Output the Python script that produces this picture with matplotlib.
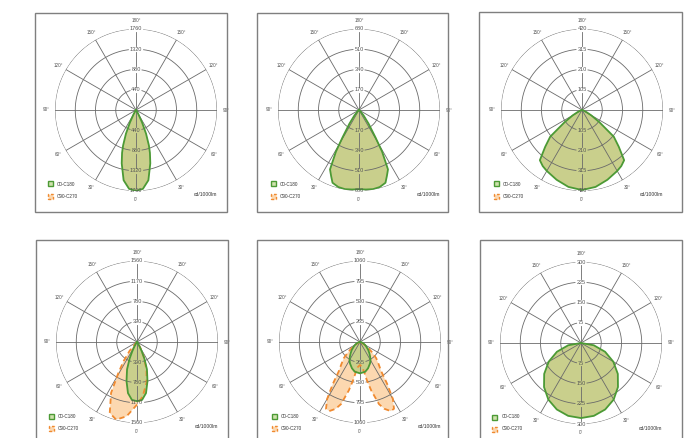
import numpy as np
import matplotlib
matplotlib.use("Agg")
import matplotlib.pyplot as plt
from matplotlib.patches import Rectangle

plt.rcParams['font.family'] = ['Liberation Sans', 'DejaVu Sans']

# ---- data (gamma angle in degrees, intensity in cd/1000lm) ----
# symmetric C0-C180 curves, gamma 0..90 (mirrored left/right)
p1_gamma = [0, 5, 10, 15, 18, 20, 23, 26, 30, 35, 40, 90]
p1_c0 = [1760, 1720, 1550, 1200, 980, 820, 560, 300, 100, 20, 0, 0]

p2_gamma = [0, 5, 10, 15, 20, 23, 26, 29, 31, 35, 40, 45, 50, 60, 90]
p2_c0 = [665, 670, 675, 670, 650, 600, 555, 400, 270, 140, 60, 20, 5, 0, 0]

p3_gamma = [0, 10, 20, 30, 35, 40, 45, 50, 55, 60, 65, 70, 80, 90]
p3_c0 = [415, 405, 385, 365, 355, 340, 270, 215, 110, 55, 25, 8, 0, 0]

p4_gamma = [0, 5, 10, 15, 20, 24, 27, 30, 35, 40, 90]
p4_c0 = [1140, 1120, 1000, 780, 560, 350, 200, 100, 30, 0, 0]
# asymmetric C90-C270 curve, signed angle (negative = left side)
p4_c90_ang = [-90, -50, -45, -40, -35, -31, -27, -21, -15, -8, 0, 6, 13, 19, 25, 30, 35, 40, 90]
p4_c90 = [0, 0, 30, 220, 450, 700, 1100, 1465, 1548, 1445, 1207, 1053, 810, 563, 300, 130, 40, 0, 0]

p5_gamma = [0, 10, 17, 25, 30, 35, 40, 46, 50, 55, 60, 70, 80, 90]
p5_c0 = [410, 395, 360, 310, 275, 230, 190, 150, 120, 95, 75, 40, 15, 0]
p5_c90_gamma = [0, 5, 8, 10, 13, 17, 20, 24, 27, 30, 33, 36, 40, 45, 50, 55, 60, 70, 80, 90]
p5_c90 = [300, 330, 400, 500, 650, 850, 930, 990, 980, 860, 650, 470, 380, 300, 200, 120, 60, 15, 0, 0]

p6_gamma = [0, 10, 20, 30, 40, 50, 60, 70, 80, 90]
p6_c0 = [278, 274, 262, 242, 213, 178, 138, 95, 48, 0]

ring_labels = {
    1: ['440', '880', '1320', '1760'],
    2: ['170', '340', '510', '680'],
    3: ['105', '210', '315', '420'],
    4: ['390', '780', '1170', '1560'],
    5: ['265', '530', '795', '1060'],
    6: ['75', '150', '225', '300'],
}

# ---- layout (pixels) ----
W, H = 690, 438
R = 81
centers = {1: (136, 110), 2: (359, 110), 3: (582, 110),
           4: (137, 342), 5: (360, 342), 6: (581, 343)}
boxes = {1: (35, 13, 227, 212), 2: (257, 13, 448, 212), 3: (479, 12, 682, 212),
         4: (36, 240, 228, 445), 5: (257, 240, 448, 445), 6: (480, 240, 682, 445)}

GRID = '#6a6a6a'
TXT = '#555555'
G_FILL = '#c9cf8c'
G_EDGE = '#4c9a35'
O_FILL = '#fcd8b0'
O_EDGE = '#f08a30'


def mirror(gamma, vals):
    g = np.asarray(gamma, float)
    v = np.asarray(vals, float)
    th = np.concatenate([-g[::-1], g[1:]])
    r = np.concatenate([v[::-1], v[1:]])
    return np.radians(th), r


def draw_grid(ax, labels):
    rmax = float(labels[-1])
    fs = 4
    lw = 0.6
    gap_r = 3.2 / R * rmax
    # rings with gaps at the labels
    for lab in labels:
        rv = float(lab)
        rpx = rv / rmax * R
        half = (len(lab) * 1.6 + 1.2) / rpx
        for c in (0.0, np.pi):
            pass
        t1 = np.linspace(half, np.pi - half, 200)
        t2 = np.linspace(np.pi + half, 2 * np.pi - half, 200)
        for t in (t1, t2):
            ax.plot(t, np.full_like(t, rv), color=GRID, lw=lw, zorder=2)
    # vertical axis line with gaps around the labels
    for th in (0.0, np.pi):
        stops = [0.0]
        for lab in labels:
            rv = float(lab)
            stops += [rv - gap_r, rv + gap_r]
        for a, b in zip(stops[0::2], stops[1::2]):
            ax.plot([th, th], [a, b], color=GRID, lw=lw, zorder=2)
    # other spokes
    for deg in range(30, 360, 30):
        if deg == 180:
            continue
        ax.plot([np.radians(deg)] * 2, [0, rmax], color=GRID, lw=lw, zorder=2)
    # radial labels
    for lab in labels:
        for th in (0.0, np.pi):
            ax.text(th, float(lab), lab, fontsize=fs, color=TXT,
                    ha='center', va='center', zorder=4)
    # angle labels
    for deg in range(0, 360, 30):
        shown = deg if deg <= 180 else 360 - deg
        ax.text(np.radians(deg), rmax * 1.11, f'{shown}°', fontsize=3.3,
                color=TXT, ha='center', va='center', clip_on=False)
    ax.set_ylim(0, rmax)


def px_rect(x0, y0, x1, y1):
    return (x0 / W, 1 - y1 / H, (x1 - x0) / W, (y1 - y0) / H)


fig = plt.figure(figsize=(W / 100, H / 100), dpi=100)
fig.patch.set_facecolor('white')

panels = {
    1: (mirror(p1_gamma, p1_c0), None),
    2: (mirror(p2_gamma, p2_c0), None),
    3: (mirror(p3_gamma, p3_c0), None),
    4: (mirror(p4_gamma, p4_c0), (np.radians(p4_c90_ang), np.asarray(p4_c90, float))),
    5: (mirror(p5_gamma, p5_c0), mirror(p5_c90_gamma, p5_c90)),
    6: (mirror(p6_gamma, p6_c0), None),
}

for k, (green, orange) in panels.items():
    x0, y0, x1, y1 = boxes[k]
    fig.add_artist(Rectangle((x0 / W, 1 - y1 / H), (x1 - x0) / W, (y1 - y0) / H,
                             transform=fig.transFigure, fill=False,
                             edgecolor='#7f7f7f', lw=1.0))
    cx, cy = centers[k]
    ax = fig.add_axes(px_rect(cx - R, cy - R, cx + R, cy + R), projection='polar')
    ax.set_theta_zero_location('S')
    ax.grid(False)
    ax.set_xticks([])
    ax.set_yticks([])
    ax.spines['polar'].set_visible(False)
    ax.patch.set_alpha(0)

    if orange is not None:
        th, r = orange
        ax.fill(th, r, color=O_FILL, lw=0, zorder=0.5)
        ax.plot(th, r, color=O_EDGE, lw=1.3, ls=(0, (3, 2)), zorder=3)
    th, r = green
    ax.fill(th, r, color=G_FILL, lw=0, zorder=1)
    ax.plot(th, r, color=G_EDGE, lw=1.3, zorder=3.5)
    draw_grid(ax, ring_labels[k])

    # legend
    fig.add_artist(Rectangle(((cx - 88.5) / W, 1 - (cy + 76.5) / H), 5 / W, 5 / H,
                             transform=fig.transFigure, facecolor='#cfe2ad',
                             edgecolor=G_EDGE, lw=1.0))
    fig.add_artist(Rectangle(((cx - 88.5) / W, 1 - (cy + 88.5) / H), 5 / W, 5 / H,
                             transform=fig.transFigure, facecolor=O_FILL,
                             edgecolor=O_EDGE, lw=1.0, ls=(0, (2, 1.5))))
    fig.text((cx - 79) / W, 1 - (cy + 74) / H, 'C0-C180', fontsize=3.3,
             color='#333333', ha='left', va='center')
    fig.text((cx - 79) / W, 1 - (cy + 86) / H, 'C90-C270', fontsize=3.3,
             color='#333333', ha='left', va='center')
    fig.text((cx + 69) / W, 1 - (cy + 85) / H, 'cd/1000lm', fontsize=3.6,
             color='#333333', ha='center', va='center')

fig.savefig('out.png', dpi=100)
